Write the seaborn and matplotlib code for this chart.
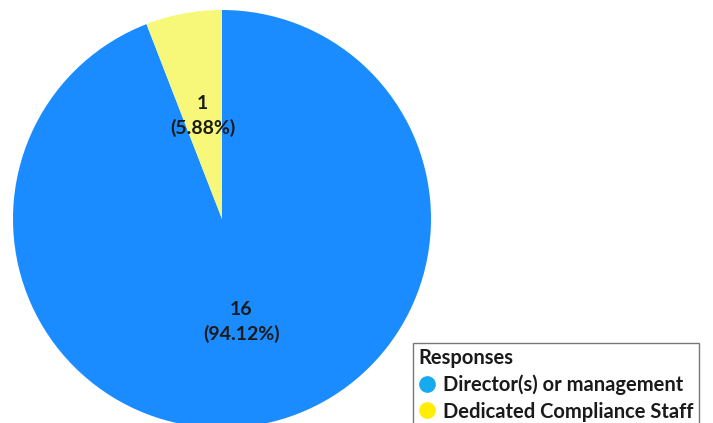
import matplotlib
matplotlib.use("Agg")
import matplotlib.pyplot as plt
from matplotlib.lines import Line2D
import seaborn as sns

categories = ["Director(s) or management", "Dedicated Compliance Staff"]
counts = [16, 1]
wedge_colors = ["#1a8cff", "#f7f77a"]
legend_colors = ["#16aaf0", "#ffee00"]
legend_title = "Responses"

sns.set_theme(style="white")
plt.rcParams["font.family"] = ["Lato", "DejaVu Sans"]

W, H = 713, 423
fig = plt.figure(figsize=(W / 100, H / 100), dpi=100)
ax = fig.add_axes([0, 0, 1, 1])

total = sum(counts)

def fmt(pct):
    n = round(pct * total / 100)
    return f"{n}\n({pct:.2f}%)"

wedges, texts, autotexts = ax.pie(
    counts,
    colors=wedge_colors,
    startangle=90,
    counterclock=False,
    center=(222, H - 219),
    radius=209,
    autopct=fmt,
    pctdistance=0.5,
    frame=True,
    wedgeprops=dict(linewidth=0),
    textprops=dict(fontsize=14, fontweight="bold", color="#1a1a1a",
                   linespacing=1.45),
)
ax.set_xlim(0, W)
ax.set_ylim(0, H)
ax.set_aspect("equal")
ax.axis("off")

handles = [Line2D([0], [0], marker="o", linestyle="", markersize=11,
                  markerfacecolor=c, markeredgecolor=c) for c in legend_colors]
leg = ax.legend(handles, categories, title=legend_title,
                loc="upper left", bbox_to_anchor=(413 / W, 1 - 343 / H),
                frameon=True, fancybox=False, borderpad=0.25,
                handletextpad=0.35, handlelength=0.9, labelspacing=0.32,
                borderaxespad=0.0,
                prop=dict(size=14.5, weight="bold"),
                title_fontproperties=dict(size=14.5, weight="bold"))
leg._legend_box.align = "left"
leg.get_frame().set_edgecolor("#555555")
leg.get_frame().set_linewidth(1.0)
for t in leg.get_texts():
    t.set_color("#1a1a1a")
leg.get_title().set_color("#1a1a1a")

fig.savefig("out.png", dpi=100, facecolor="white")
